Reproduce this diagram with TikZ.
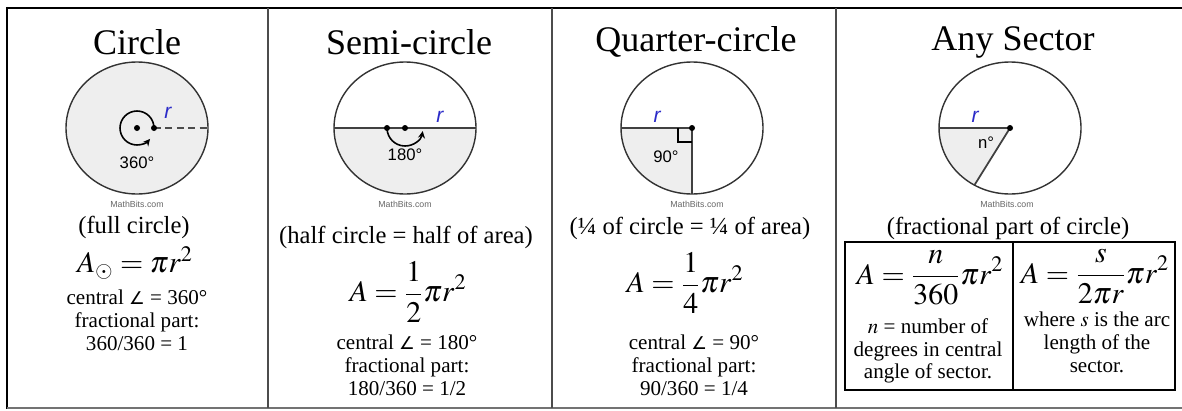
\documentclass[tikz,border=0pt]{standalone}
\usepackage{mathptmx}
\usepackage[no-math]{fontspec}
\setmainfont{Liberation Serif}
\newfontfamily\labelfont{Liberation Sans}
\newfontfamily\anglefont{DejaVu Sans}
\usetikzlibrary{arrows.meta}
\definecolor{sectorgray}{HTML}{EEEEEE}
\definecolor{rblue}{HTML}{2B2BC8}
\newcommand{\angsign}{{\anglefont\fontsize{10}{12}\selectfont ∠}}

\begin{document}
\begin{tikzpicture}[x=0.02cm, y=0.02cm,
      title/.style={font=\fontsize{20.5}{24}\selectfont},
      note/.style={font=\fontsize{14}{16}\selectfont},
      rule/.style={align=center, font=\fontsize{12}{13}\selectfont},
      formula/.style={font=\fontsize{17}{20}\selectfont},
      site/.style={font=\labelfont\fontsize{5}{6}\selectfont, text=black!60},
      rlabel/.style={font=\labelfont\itshape\fontsize{12}{14}\selectfont, text=rblue},
      deg/.style={font=\labelfont\fontsize{9.5}{11}\selectfont},
      disk/.style={draw=black!80, line width=0.8pt},
      spoke/.style={draw=black!75, line width=1pt},
      >={Stealth[length=4pt, width=4pt]}]
    \useasboundingbox (0,0) rectangle (1182,410);
    % frame and column rules
    \draw[line width=1.6pt] (7,402) -- (1182,402);
    \draw[line width=1.1pt] (7,403) -- (7,1);
    \draw[black!55, line width=0.8pt] (7,2) -- (1182,2);
    \foreach \x in {268,552,836}
      \draw[black!70, line width=0.7pt] (\x,402) -- (\x,2);

    % circle
    \node[title] (t1) at (137,368) {Circle};
    \coordinate (o1) at (137,282);
    \filldraw[disk, fill=sectorgray] (o1) ellipse[x radius=71, y radius=66];
    \draw[black!70, line width=0.9pt, dash pattern=on 4pt off 2.5pt] (154,282) -- (208,282);
    \draw[->, line width=0.9pt] (154,282) arc[start angle=0, end angle=320, radius=17];
    \fill (o1) circle[radius=3];
    \fill (154,282) circle[radius=3];
    \node[deg] (d1) at (137,247) {360°};
    \node[rlabel] (r1) at (168,297) {r};
    \node[site] (m1) at (137,206) {MathBits.com};
    \node[note] (n1) at (134,183) {(full circle)};
    \node[formula] (f1) at (135,147) {$A_{\odot}=\pi r^2$};
    \node[rule] (p1) at (137,90) {central \angsign{} = 360°\\fractional part:\\360/360 = 1};

    % semi-circle
    \node[title] (t2) at (409,368) {Semi-circle};
    \coordinate (o2) at (405,282);
    \fill[sectorgray] (334,282) arc[start angle=180, end angle=360, x radius=71, y radius=66] -- cycle;
    \draw[disk] (o2) ellipse[x radius=71, y radius=66];
    \draw[spoke] (334,282) -- (476,282);
    \draw[->, line width=0.9pt] (387,282) arc[start angle=180, end angle=350, radius=18];
    \fill (o2) circle[radius=3];
    \fill (387,282) circle[radius=3];
    \node[deg] (d2) at (405,255) {180°};
    \node[rlabel] (r2) at (440,293) {r};
    \node[site] (m2) at (405,206) {MathBits.com};
    \node[note] (n2) at (406,173) {(half circle = half of area)};
    \node[formula] (f2) at (408,118) {$\displaystyle A=\frac{1}{2}\pi r^2$};
    \node[rule] (p2) at (407,45) {central \angsign{} = 180°\\fractional part:\\180/360 = 1/2};

    % quarter-circle
    \node[title] (t3) at (696,368) {Quarter-circle};
    \coordinate (o3) at (692,282);
    \fill[sectorgray] (o3) -- (621,282) arc[start angle=180, end angle=270, x radius=71, y radius=66] -- cycle;
    \draw[disk] (o3) ellipse[x radius=71, y radius=66];
    \draw[spoke] (621,282) -- (o3) -- (692,216);
    \draw[line width=0.7pt] (678,282) -- (678,268) -- (692,268);
    \fill (o3) circle[radius=3];
    \node[deg] (d3) at (666,253) {90°};
    \node[rlabel] (r3) at (657,293) {r};
    \node[site] (m3) at (697,206) {MathBits.com};
    \node[note] (n3) at (690,182) {(¼ of circle = ¼ of area)};
    \node[formula] (f3) at (685,127) {$\displaystyle A=\frac{1}{4}\pi r^2$};
    \node[rule] (p3) at (694,45) {central \angsign{} = 90°\\fractional part:\\90/360 = 1/4};

    % any sector
    \node[title] (t4) at (1013,368) {Any Sector};
    \coordinate (o4) at (1010,282);
    \fill[sectorgray] (o4) -- (939,282) arc[start angle=180, end angle=240, x radius=71, y radius=66] -- cycle;
    \draw[disk] (o4) ellipse[x radius=71, y radius=66];
    \draw[spoke] (939,282) -- (o4) -- (974.5,225);
    \fill (o4) circle[radius=3];
    \node[deg] (d4) at (986,267) {n°};
    \node[rlabel] (r4) at (975,293) {r};
    \node[site] (m4) at (1007,206) {MathBits.com};
    \node[note] (n4) at (1008,182) {(fractional part of circle)};
    \draw[line width=0.9pt] (845,20) rectangle (1175,168);
    \draw[line width=0.9pt] (1013,168) -- (1013,20);
    \node[formula] (f4) at (930,132) {$\displaystyle A=\frac{n}{360}\pi r^2$};
    \node[rule] (p4) at (928,59) {$n$ = number of\\degrees in central\\angle of sector.};
    \node[formula] (f5) at (1095,133) {$\displaystyle A=\frac{s}{2\pi r}\pi r^2$};
    \node[rule] (p5) at (1097,68) {where $s$ is the arc\\length of the\\sector.};
  \end{tikzpicture}
\end{document}
